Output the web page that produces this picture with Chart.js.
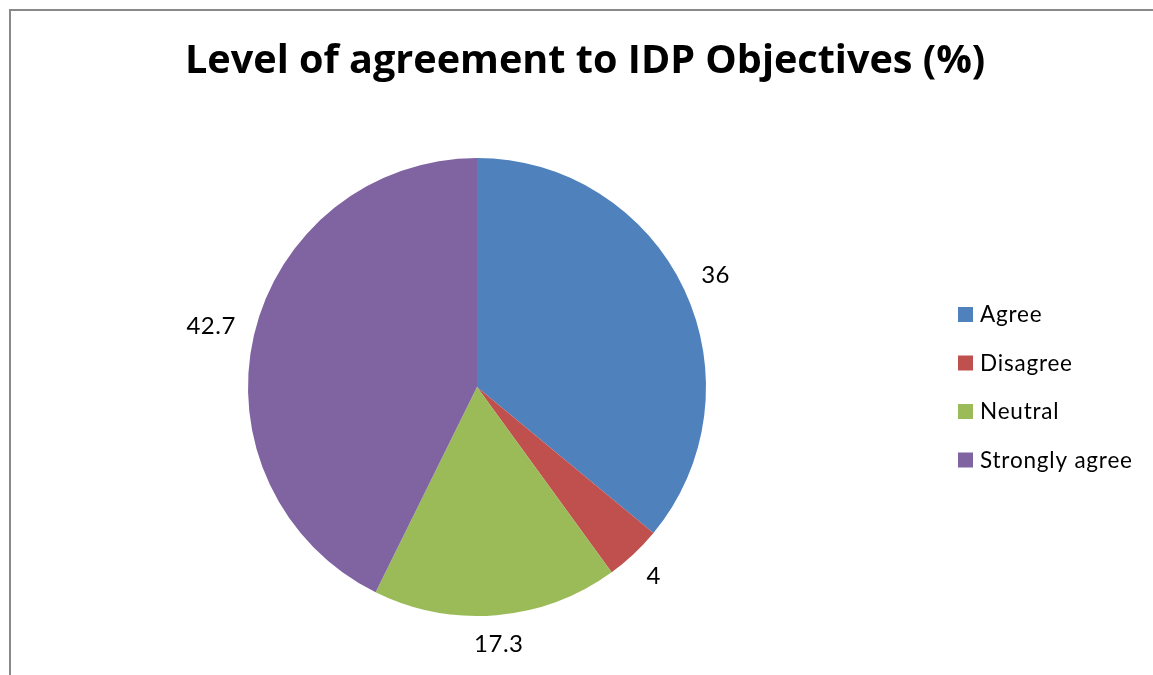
<!DOCTYPE html>
<html>
<head>
<meta charset="utf-8">
<script src="https://cdn.jsdelivr.net/npm/chart.js@4.4.1/dist/chart.umd.min.js"></script>
<style>
  html, body { margin: 0; padding: 0; background: #fff; }
  #wrap { position: relative; width: 1153px; height: 675px; }
  #frame {
    position: absolute; left: 9px; top: 9px; right: -5px; bottom: -5px;
    border-top: 2px solid #898989; border-left: 2px solid #898989;
  }
  canvas { position: absolute; left: 0; top: 0; }
</style>
</head>
<body>
<div id="wrap">
  <div id="frame"></div>
  <canvas id="myChart" width="1153" height="675"></canvas>
</div>
<script>
const chartTitle = 'Level of agreement to IDP Objectives (%)';
const categories = ['Agree', 'Disagree', 'Neutral', 'Strongly agree'];
const percents = [36, 4, 17.3, 42.7];
const sliceColors = ['#4f81bd', '#c0504d', '#9bbb59', '#8064a2'];

const FONT = 'Lato, "Open Sans", sans-serif';
const TITLE_FONT = '"Open Sans", Lato, sans-serif';

// title, value labels outside the slices, and the legend on the right
const extras = {
  id: 'extras',
  afterDraw(chart) {
    const c = chart.ctx;
    c.save();

    // title sized so it runs from x=185 to x=985
    c.fillStyle = '#000';
    c.font = 'bold 36px ' + TITLE_FONT;
    var size = 36 * 800 / c.measureText(chartTitle).width;
    c.font = 'bold ' + size.toFixed(1) + 'px ' + TITLE_FONT;
    c.textAlign = 'left';
    c.textBaseline = 'alphabetic';
    c.fillText(chartTitle, 185, 73);

    // values just outside each slice
    c.letterSpacing = '0.5px';
    c.font = '24px ' + FONT;
    c.textAlign = 'center';
    c.textBaseline = 'middle';
    var arcs = chart.getDatasetMeta(0).data;
    for (var i = 0; i < arcs.length; i++) {
      var a = arcs[i];
      var mid = (a.startAngle + a.endAngle) / 2;
      var txt = String(chart.data.datasets[0].data[i]);
      var w = c.measureText(txt).width;
      var h = 17;
      var dist = a.outerRadius + 18 + Math.abs(Math.cos(mid)) * w / 2 + Math.abs(Math.sin(mid)) * h / 2;
      c.fillText(txt, a.x + Math.cos(mid) * dist, a.y + Math.sin(mid) * dist + 1);
    }

    // legend
    c.letterSpacing = '0.8px';
    c.font = '22.5px ' + FONT;
    c.textAlign = 'left';
    for (var j = 0; j < chart.data.labels.length; j++) {
      var y = 314 + j * 48.5;
      c.fillStyle = chart.data.datasets[0].backgroundColor[j];
      c.fillRect(958, y - 7, 15, 15);
      c.fillStyle = '#000';
      c.fillText(chart.data.labels[j], 980, y + 1);
    }
    c.restore();
  }
};

const ctx = document.getElementById('myChart');
var pieChart = new Chart(ctx, {
  type: 'pie',
  data: {
    labels: categories,
    datasets: [{
      data: percents,
      backgroundColor: sliceColors,
      borderWidth: 0,
      hoverOffset: 0
    }]
  },
  options: {
    responsive: false,
    animation: false,
    events: [],
    layout: {
      padding: { left: 248, top: 158, right: 447, bottom: 59 }
    },
    plugins: {
      legend: { display: false },
      title: { display: false },
      tooltip: { enabled: false }
    }
  },
  plugins: [extras]
});
</script>
</body>
</html>
